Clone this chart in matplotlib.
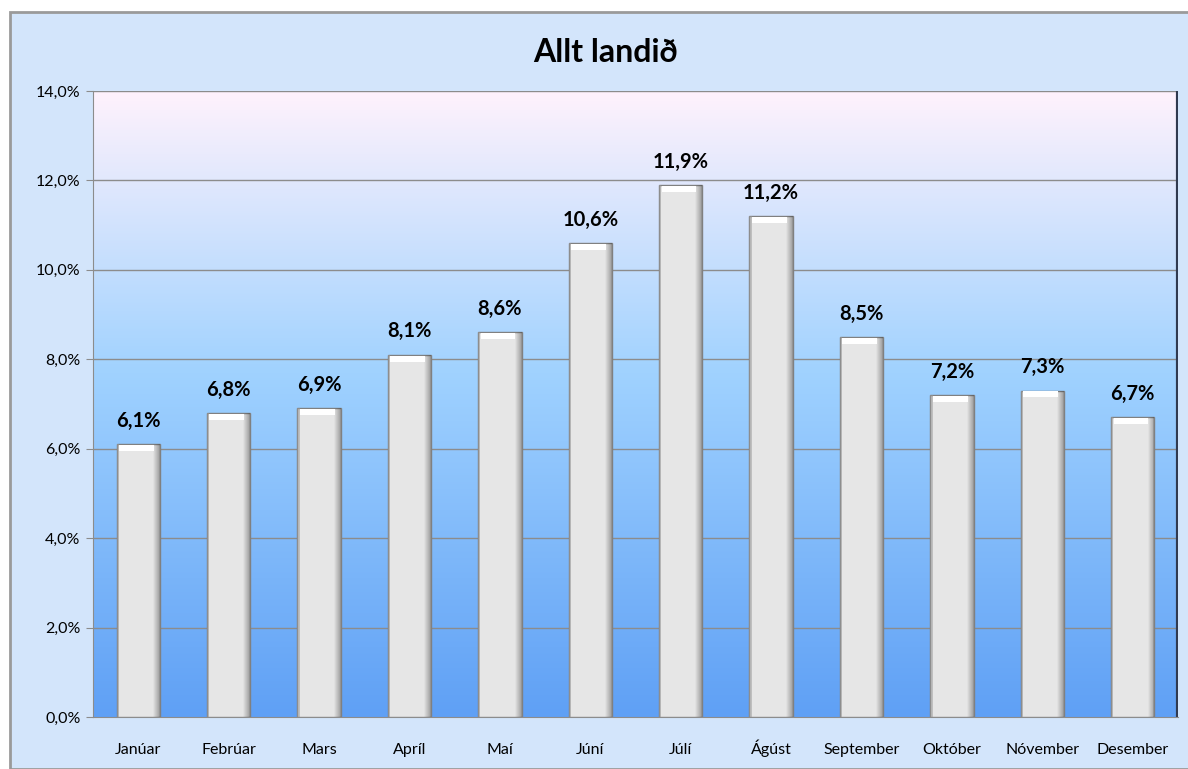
import numpy as np
import matplotlib.pyplot as plt
from matplotlib.patches import Rectangle
from matplotlib.ticker import FuncFormatter

months = ['Janúar', 'Febrúar', 'Mars', 'Apríl', 'Maí', 'Júní', 'Júlí',
          'Ágúst', 'September', 'Október', 'Nóvember', 'Desember']
share = [6.1, 6.8, 6.9, 8.1, 8.6, 10.6, 11.9, 11.2, 8.5, 7.2, 7.3, 6.7]
title = 'Allt landið'

plt.rcParams['font.family'] = ['Lato', 'DejaVu Sans']

fig = plt.figure(figsize=(11.88, 7.69), dpi=100)
fig.patch.set_facecolor('white')

# chart area with a thin grey frame
fig.patches.append(Rectangle((10 / 1188, 0), 1.0, 1 - 12 / 769, transform=fig.transFigure,
                             facecolor='#d3e5fb', edgecolor='#9a9a9a', linewidth=2.0, zorder=-1))

ax = fig.add_axes([93 / 1188, 1 - 717 / 769, (1178 - 93) / 1188, (717 - 91) / 769])
ax.set_xlim(-0.5, len(months) - 0.5)
ax.set_ylim(0, 14)

# plot area gradient: pinkish white on top to blue at bottom
top = np.array([255, 242, 252]) / 255
mid = np.array([160, 210, 255]) / 255
bot = np.array([95, 160, 245]) / 255
t = np.linspace(0, 1, 256)[:, None]
grad = np.where(t < 0.45, top + (mid - top) * (t / 0.45), mid + (bot - mid) * ((t - 0.45) / 0.55))
ax.imshow(grad[:, None, :], extent=(0, 1, 0, 1), transform=ax.transAxes,
          aspect='auto', zorder=0)

for y in range(2, 15, 2):
    ax.axhline(y, color='#8c8c8c', linewidth=1.0, zorder=1)

x = np.arange(len(months))
w = 0.48
ax.bar(x, share, width=w, color='#e6e6e6', edgecolor='#808080', linewidth=1.0, zorder=3)
# bevel: darker right side, lighter left side, white top cap
for k, a in enumerate(np.linspace(0.05, 0.6, 7)):
    ax.bar(x + w / 2 - 0.011 * (7 - k), share, width=0.011, align='edge',
           color='#404040', alpha=a * 0.7, linewidth=0, zorder=4)
ax.bar(x - w / 2, share, width=0.025, align='edge', color='#9a9a9a', alpha=0.5,
       linewidth=0, zorder=4)
ax.bar(x - 0.02, [0.13] * len(x), bottom=np.array(share) - 0.15, width=w * 0.8,
       color='white', linewidth=0, zorder=4)

for xi, v in zip(x, share):
    ax.text(xi, v + 0.3, f'{v:.1f}%'.replace('.', ','), ha='center', va='bottom',
            fontsize=14.5, fontweight='bold', color='black', zorder=5)

for s in ['top', 'right']:
    ax.spines[s].set_visible(False)
ax.spines['left'].set_color('#8c8c8c')
ax.spines['bottom'].set_color('#8c8c8c')
ax.axvline(len(months) - 0.5, color='#303a50', linewidth=3, zorder=2)

ax.set_yticks(range(0, 15, 2))
ax.yaxis.set_major_formatter(FuncFormatter(lambda v, p: f'{v:.1f}%'.replace('.', ',')))
ax.set_xticks(x)
ax.set_xticklabels(months, va='baseline')
ax.tick_params(axis='y', labelsize=11.5, length=5, color='#8c8c8c', pad=4)
ax.tick_params(axis='x', labelsize=11.5, length=0, pad=26.5)

fig.text(606 / 1188, 1 - 52 / 769, title, ha='center', va='center',
         fontsize=23, fontweight='bold')

fig.savefig('out.png', dpi=100)
